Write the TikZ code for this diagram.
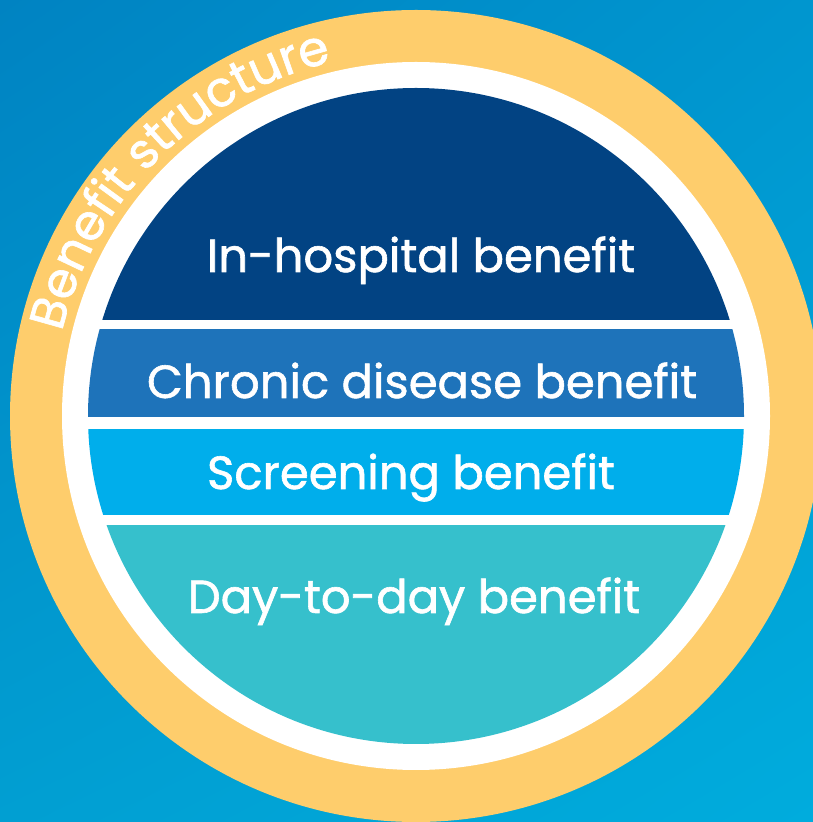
\documentclass[tikz,border=0pt]{standalone}
\usepackage{fontspec}
\usetikzlibrary{decorations.text,shadings}
\newfontfamily\labelfont{Poppins}[Ligatures=NoCommon,FakeBold=1.3]
\definecolor{bgUL}{HTML}{0083C2}
\definecolor{bgUR}{HTML}{0096CF}
\definecolor{bgLL}{HTML}{019FD2}
\definecolor{bgLR}{HTML}{00ACDD}
\definecolor{ringYellow}{HTML}{FECD6C}
\definecolor{cHosp}{HTML}{024383}
\definecolor{cChronic}{HTML}{1E73BA}
\definecolor{cScreen}{HTML}{00AEEB}
\definecolor{cDay}{HTML}{36C0CC}
\begin{document}
\begin{tikzpicture}[x=1pt,y=1pt,
  bandtext/.style={text=white, font=\labelfont\fontsize{46.5}{50}\selectfont, anchor=base, inner sep=0pt}]
\useasboundingbox (0,0) rectangle (813,822);
\shade[upper left=bgUL, upper right=bgUR, lower left=bgLL, lower right=bgLR] (0,0) rectangle (813,822);
\coordinate (c) at (416,406);
\fill[ringYellow] (c) circle[radius=406];
\fill[white] (c) circle[radius=354];
\begin{scope}
  \clip (c) circle[radius=328];
  \fill[cHosp] (0,502) rectangle (813,822);
  \fill[cChronic] (0,405) rectangle (813,493);
  \fill[cScreen] (0,307) rectangle (813,393);
  \fill[cDay] (0,0) rectangle (813,297);
\end{scope}
\node[bandtext] (hosp) at (421,550) {In-hospital benefit};
\node[bandtext] (chronic) at (422,424) {Chronic disease benefit};
\node[bandtext] (screen) at (411,333) {Screening benefit};
\node[bandtext] (day) at (414,209) {Day-to-day benefit};
\path[decorate, decoration={text along path, text align=center,
  text color=white,
  text={|\labelfont\fontsize{49}{49}\selectfont|Benefit structure}}]
  (c) ++(166:364) arc[start angle=166, end angle=104, radius=364];
\end{tikzpicture}
\end{document}
